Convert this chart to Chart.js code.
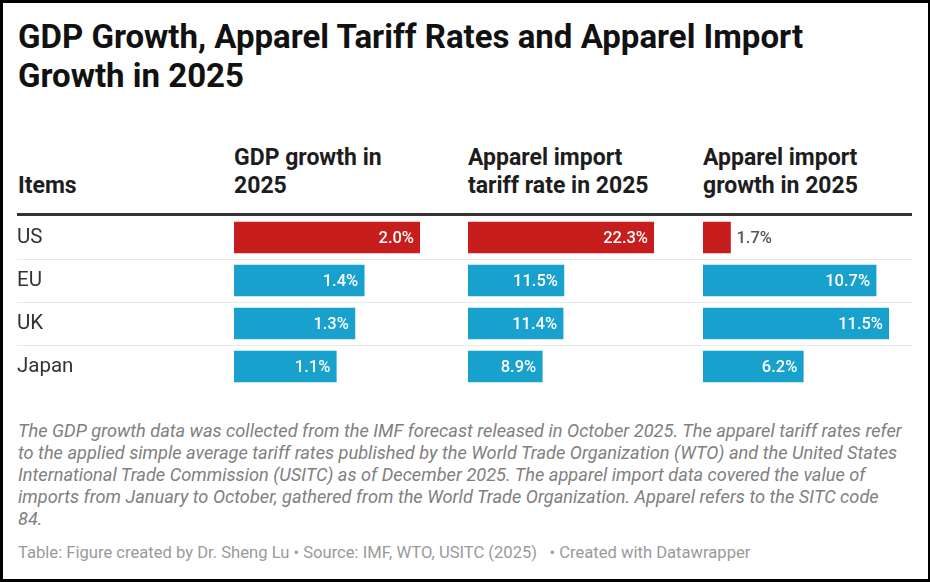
<!DOCTYPE html>
<html>
<head>
<meta charset="utf-8">
<script src="https://cdn.jsdelivr.net/npm/chart.js@4"></script>
<style>
  html, body { margin: 0; padding: 0; }
  body {
    width: 930px; height: 582px; position: relative; overflow: hidden;
    background: #fff; font-family: Roboto, "Noto Sans", sans-serif;
    box-sizing: border-box; border: 3px solid #000; border-right-width: 2px;
  }
  .abs { position: absolute; white-space: nowrap; }
  #title { left: 15px; top: 14px; font-size: 33px; line-height: 39px; font-weight: 700; color: #111; }
  .head { font-size: 23px; line-height: 28px; font-weight: 700; color: #1d1d1d; }
  .rule { position: absolute; left: 14px; width: 895px; height: 1px; background: #e8e8e8; }
  #thick { position: absolute; left: 14px; width: 895px; top: 210px; height: 3px; background: #333; }
  #notes { left: 15px; top: 417px; font-size: 18.2px; line-height: 22px; font-style: italic; color: #808080; }
  #footer { left: 15px; top: 540px; font-size: 16.6px; line-height: 20px; color: #9a9a9a; }
  .col { position: absolute; top: 213px; height: 172px; }
</style>
</head>
<body>
<div id="title" class="abs">GDP Growth, Apparel Tariff Rates and Apparel Import<br>Growth in 2025</div>

<div class="abs head" style="left:15px; top:169px;">Items</div>
<div class="abs head" style="left:231px; top:141px;">GDP growth in<br>2025</div>
<div class="abs head" style="left:465px; top:141px;">Apparel import<br>tariff rate in 2025</div>
<div class="abs head" style="left:700px; top:141px;">Apparel import<br>growth in 2025</div>
<div id="thick"></div>
<div class="rule" style="top:256px"></div>
<div class="rule" style="top:299px"></div>
<div class="rule" style="top:342px"></div>

<div class="col" style="left:14px; width:403px;"><canvas id="chart-1"></canvas></div>
<div class="col" style="left:465px; width:186px;"><canvas id="chart-2"></canvas></div>
<div class="col" style="left:700px; width:209px;"><canvas id="chart-3"></canvas></div>

<div id="notes" class="abs">The GDP growth data was collected from the IMF forecast released in October 2025. The apparel tariff rates refer<br>to the applied simple average tariff rates published by the World Trade Organization (WTO) and the United States<br>International Trade Commission (USITC) as of December 2025. The apparel import data covered the value of<br>imports from January to October, gathered from the World Trade Organization. Apparel refers to the SITC code<br>84.</div>
<div id="footer" class="abs">Table: Figure created by Dr. Sheng Lu • Source: IMF, WTO, USITC (2025) &nbsp; • Created with Datawrapper</div>

<script>
const items = ["US", "EU", "UK", "Japan"];
const gdpGrowth = [2.0, 1.4, 1.3, 1.1];
const tariffRate = [22.3, 11.5, 11.4, 8.9];
const importGrowth = [1.7, 10.7, 11.5, 6.2];

const red = "#c71e1d";
const blue = "#18a1cd";
const barColors = items.map((c) => (c === "US" ? red : blue));

// value labels: inside the bar (white) when it fits, otherwise just outside
const valueLabels = {
  id: "valueLabels",
  afterDatasetsDraw(chart) {
    const ctx = chart.ctx;
    const meta = chart.getDatasetMeta(0);
    const values = chart.data.datasets[0].data;
    ctx.save();
    ctx.font = "500 16.5px Roboto";
    ctx.textBaseline = "middle";
    meta.data.forEach((bar, i) => {
      const text = values[i].toFixed(1) + "%";
      const w = ctx.measureText(text).width;
      if (bar.x - bar.base > w + 12) {
        ctx.fillStyle = "#fff";
        ctx.textAlign = "right";
        ctx.fillText(text, bar.x - 6, bar.y + 1);
      } else {
        ctx.fillStyle = "#555";
        ctx.textAlign = "left";
        ctx.fillText(text, bar.x + 6, bar.y + 1);
      }
    });
    ctx.restore();
  },
};

function makeColumn(id, values, showLabels, padRight) {
  const ctx = document.getElementById(id).getContext("2d");
  return new Chart(ctx, {
    type: "bar",
    data: {
      labels: items,
      datasets: [
        {
          data: values,
          backgroundColor: barColors,
          barThickness: 31,
          borderWidth: 0,
        },
      ],
    },
    options: {
      indexAxis: "y",
      responsive: true,
      maintainAspectRatio: false,
      animation: false,
      layout: { padding: { left: 0, right: padRight, top: 0, bottom: 0 } },
      plugins: { legend: { display: false }, tooltip: { enabled: false } },
      scales: {
        x: { display: false, min: 0, max: Math.max(...values) },
        y: {
          display: showLabels,
          grid: { display: false },
          border: { display: false },
          afterFit: (axis) => {
            if (!showLabels) return;
            axis.width = 217;
            axis.paddingTop = 0;
            axis.paddingBottom = 0;
          },
          ticks: {
            crossAlign: "far",
            padding: 0,
            color: "#333",
            font: { family: "Roboto", size: 20.5 },
          },
        },
      },
    },
    plugins: [valueLabels],
  });
}

makeColumn("chart-1", gdpGrowth, true, 0);
makeColumn("chart-2", tariffRate, false, 0);
makeColumn("chart-3", importGrowth, false, 23);
</script>
</body>
</html>
